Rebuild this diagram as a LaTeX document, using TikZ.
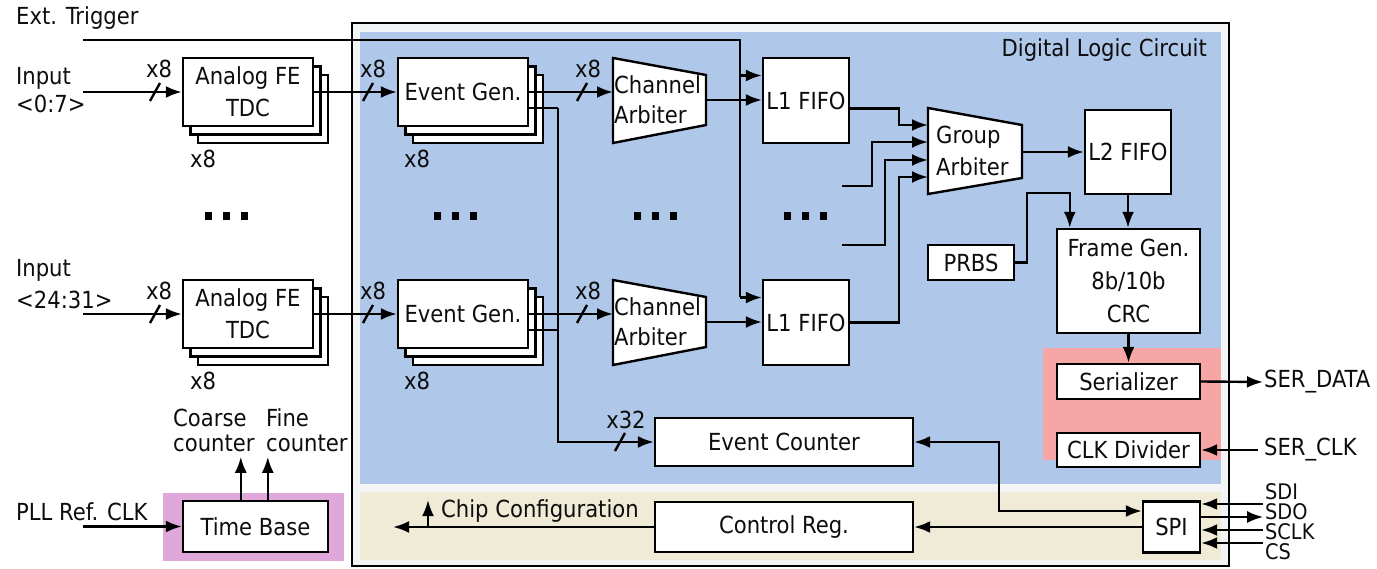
\documentclass[tikz,border=0pt]{standalone}
\usepackage{fontspec}
\setmainfont{DejaVu Sans Condensed}
\usetikzlibrary{arrows.meta,calc,shadows}

\definecolor{dlcblue}{RGB}{175,199,232}
\definecolor{cfgbeige}{RGB}{240,235,214}
\definecolor{serpink}{RGB}{247,166,166}
\definecolor{tbpink}{RGB}{224,168,218}
\definecolor{chipgray}{RGB}{243,244,246}

\begin{document}
\begin{tikzpicture}[
        x=1pt, y=-1pt,
        line width=2.4pt,
        >={Latex[length=16pt,width=12pt]},
        font=\fontsize{23.5}{28}\selectfont,
        text=black!95
    ]
    %\usetikzlibrary{arrows.meta,calc,shadows}

    \tikzstyle{block} = [
        draw, fill=white,
        inner sep=0pt,
        align=center
    ]
    \tikzstyle{stack} = [
        block,
        copy shadow={shadow xshift=15pt, shadow yshift=-17pt},
        copy shadow={shadow xshift=7.5pt, shadow yshift=-8.5pt}
    ]
    \tikzstyle{tag} = [
        inner sep=0pt,
        align=left
    ]
    \tikzstyle{pin} = [
        tag, anchor=west,
        font=\fontsize{21.5}{24}\selectfont
    ]

    \useasboundingbox (0,0) rectangle (1377,569);

    % chip and its regions
    \draw[fill=chipgray] (352,23) rectangle (1229,566);
    \fill[dlcblue] (360,32) rectangle (1221,484);
    \fill[cfgbeige] (360,492) rectangle (1221,560);
    \fill[serpink] (1043,348) rectangle (1221,460);
    \fill[tbpink] (163,493) rectangle (344,561);
    \node[tag, anchor=east] (dlc) at (1208,50) {Digital Logic Circuit};

    % the two channel groups
    \foreach \r/\dy in {1/0, 2/222} {
        \node[stack, minimum width=130, minimum height=68] (fe\r) at (248,92+\dy) {Analog FE\\[4pt]TDC};
        \node[stack, minimum width=130, minimum height=68] (eg\r) at (463,92+\dy) {Event Gen.};
        \draw[fill=white] (613,58+\dy) -- (706,75+\dy) -- (706,100+\dy) coordinate (cao\r)
            -- (706,125+\dy) -- (613,143+\dy) -- cycle;
        \node[tag, anchor=west] (ca\r) at (613,100+\dy) {Channel\\[2pt]Arbiter};
        \node[block, minimum width=86, minimum height=85] (l1f\r) at (806,100.5+\dy) {L1 FIFO};

        \coordinate (in\r) at (83,92+\dy);
        \draw[->] (in\r) -- (fe\r.west);
        \draw[->] (fe\r.east) -- (eg\r.west);
        \draw[->] (eg\r.east) -- (eg\r.east -| ca\r.west);
        \draw ($(eg\r.east)+(0,16)$) -- ++(29,0);
        \draw[->] (cao\r) -- (cao\r -| l1f\r.west);
        \draw[->] ($(l1f\r.west)+(-22,-25)$) -- ($(l1f\r.west)+(0,-25)$);

        % bus widths
        \draw (150,101+\dy) -- ++(10,-18);
        \draw (363,101+\dy) -- ++(10,-18);
        \draw (577,101+\dy) -- ++(10,-18);
        \node[tag] (wa\r) at (159,69+\dy) {x8};
        \node[tag] (wb\r) at (373,69+\dy) {x8};
        \node[tag] (wc\r) at (588,69+\dy) {x8};
        \node[tag] (nfe\r) at (203,159+\dy) {x8};
        \node[tag] (neg\r) at (417,159+\dy) {x8};
    }

    \node[tag, anchor=west] (inp1) at (15,90) {Input\\<0:7>};
    \node[tag, anchor=west] (inp2) at (15,284) {Input\\[4pt]<24:31>};
    \node[tag, anchor=west] (trgtxt) at (15,18) {Ext. Trigger};
    \coordinate (trg) at (83,40);
    \draw (trg) -| ($(l1f2.west)+(-22,-25)$);

    % dots between the groups
    \foreach \cx in {226,455,655,805}
        \foreach \k in {-18,0,18}
            \fill (\cx+\k-3.5,212) rectangle ++(7,8);

    % group arbiter and output chain
    \draw[fill=white] (928,108) -- (1022,125) -- (1022,152) coordinate (gao)
        -- (1022,178) -- (928,194) -- cycle;
    \coordinate (gaw) at (928,151);
    \node[tag, anchor=west] (ga) at (935,151) {Group\\[4pt]Arbiter};
    \draw[->] ($(l1f1.east)+(0,8)$) -| ($(gaw)+(-29,-26)$) -- ($(gaw)+(0,-26)$);
    \coordinate (ga2in) at (842,186);
    \draw[->] (ga2in) -| ($(gaw)+(-56,-9)$) -- ($(gaw)+(0,-9)$);
    \coordinate (ga3in) at (842,245);
    \draw[->] (ga3in) -| ($(gaw)+(-43,9)$) -- ($(gaw)+(0,9)$);
    \draw[->] (l1f2.east) -| ($(gaw)+(-29,26)$) -- ($(gaw)+(0,26)$);

    \node[block, minimum width=86, minimum height=84] (l2f) at (1128,152) {L2 FIFO};
    \node[block, minimum width=86, minimum height=35] (prbs) at (971,262.5) {PRBS};
    \node[block, minimum width=143, minimum height=104] (fg) at (1128.5,281) {Frame Gen.\\[5pt]8b/10b\\[5pt]CRC};
    \node[block, minimum width=143, minimum height=35] (ser) at (1128.5,381.5) {Serializer};
    \node[block, minimum width=143, minimum height=34] (clkdiv) at (1128.5,450) {CLK Divider};
    \draw[->] (gao) -- (l2f.west);
    \draw[->] (prbs.east) -| ($(fg.north west)+(-29,-35)$) -| ($(fg.north west)+(14,0)$);
    \draw[->] (l2f.south) -- (l2f.south |- fg.north);
    \draw[->] (fg.south) -- (ser.north);

    \node[tag, anchor=west] (sdata) at (1263,382) {SER\_DATA};
    \node[tag, anchor=west] (sclk) at (1263,450) {SER\_CLK};
    \draw[->] (ser.east) -- (sdata.west);
    \draw[->] ($(sclk.west)+(-5,0)$) -- (clkdiv.east);

    % counters, configuration and SPI
    \node[block, minimum width=258, minimum height=48] (evc) at (784,442) {Event Counter};
    \node[block, minimum width=258, minimum height=50] (creg) at (784,527) {Control Reg.};
    \node[block, minimum width=57, minimum height=51] (spi) at (1171.5,527) {SPI};
    \draw[->] ($(eg1.east)+(29,16)$) |- (evc.west);
    \draw (615,451) -- ++(10,-18);
    \node[tag] (w32) at (626,420) {x32};
    \draw[<->] (evc.east) -- ++(85,0) |- ($(spi.west)+(0,-16)$);
    \draw[->] (spi.west) -- (spi.west -| creg.east);
    \coordinate (cfgend) at (393,527);
    \draw[->] (creg.west) -- (cfgend);
    \draw[->] ($(cfgend)+(35,0)$) -- ++(0,-27);
    \node[tag, anchor=west] (cfg) at (440,511) {Chip Configuration};

    \draw[<-] ($(spi.east)+(0,-23)$) -- ++(62,0);
    \draw[->] ($(spi.east)+(0,-10)$) -- ++(62,0);
    \draw[<-] ($(spi.east)+(0,3)$) -- ++(62,0);
    \draw[<-] ($(spi.east)+(0,16)$) -- ++(62,0);
    \node[pin] (sdi) at (1264,492) {SDI};
    \node[pin] (sdo) at (1264,512) {SDO};
    \node[pin] (sck) at (1264,532) {SCLK};
    \node[pin] (cs) at (1264,552) {CS};

    % time base
    \node[block, minimum width=145, minimum height=51] (tb) at (255.5,526.5) {Time Base};
    \coordinate (pll) at (83,526.5);
    \draw[->] (pll) -- (tb.west);
    \node[tag, anchor=west] (plltxt) at (15,512) {PLL Ref. CLK};
    \draw[->] ($(tb.north west)+(59,0)$) -- ++(0,-43);
    \draw[->] ($(tb.north west)+(86,0)$) -- ++(0,-43);
    \node[tag, anchor=west] (coarse) at (172,430) {Coarse\\[-3pt]counter};
    \node[tag, anchor=west] (fine) at (265,430) {Fine\\[-3pt]counter};
\end{tikzpicture}
\end{document}
